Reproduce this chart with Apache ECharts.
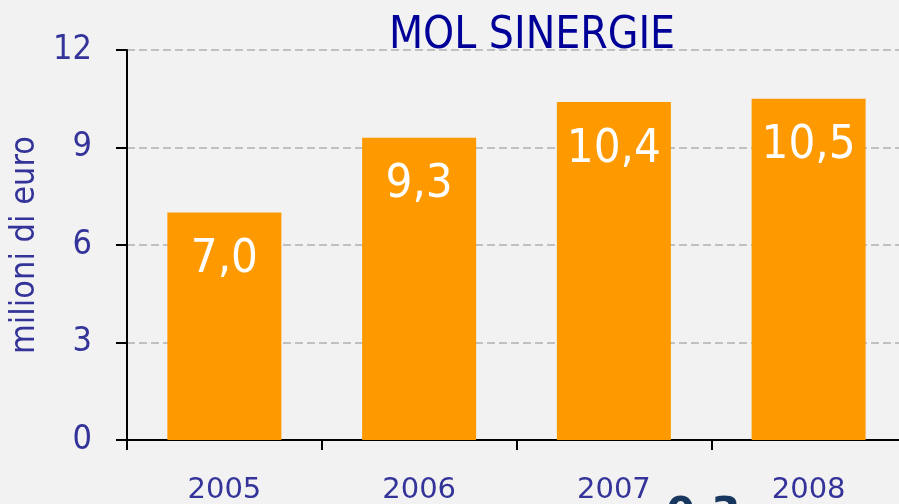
<!DOCTYPE html>
<html>
<head>
<meta charset="utf-8">
<script src="https://cdn.jsdelivr.net/npm/echarts@6/dist/echarts.min.js"></script>
<style>
  html, body { margin: 0; padding: 0; background: #f2f2f2; }
  #chart { width: 899px; height: 504px; }
</style>
</head>
<body>
<div id="chart"></div>
<script>
// dati
const years = ['2005', '2006', '2007', '2008']
const values = [7.0, 9.3, 10.4, 10.5]
const yMin = 0
const yMax = 12
const yStep = 3

const narrow = "'DejaVu Sans Condensed', 'Liberation Sans Narrow', sans-serif"
const blue = '#333399'

const fmt = v => v.toFixed(1).replace('.', ',')

const chart = echarts.init(document.getElementById('chart'))

chart.setOption({
  backgroundColor: '#f2f2f2',
  animation: false,
  title: {
    text: 'MOL SINERGIE',
    left: 527,
    top: 10,
    textAlign: 'center',
    textStyle: { fontFamily: narrow, fontSize: 44, fontWeight: 'normal', color: '#000099' }
  },
  grid: { left: 127, right: -7, top: 50, bottom: 64, outerBoundsMode: 'none' },
  xAxis: {
    type: 'category',
    data: years,
    axisLine: { lineStyle: { color: '#000', width: 2 } },
    axisTick: { show: true, length: 10, lineStyle: { color: '#000', width: 2 } },
    axisLabel: { margin: 36, fontFamily: 'DejaVu Sans', fontSize: 29, color: blue }
  },
  yAxis: {
    type: 'value',
    min: yMin,
    max: yMax,
    interval: yStep,
    name: 'milioni di euro',
    nameLocation: 'middle',
    nameGap: 74,
    nameTextStyle: { fontFamily: narrow, fontSize: 34, color: blue },
    axisLine: { show: true, lineStyle: { color: '#000', width: 2 } },
    axisTick: { show: true, length: 11, lineStyle: { color: '#000', width: 2 } },
    axisLabel: { margin: 35, fontFamily: narrow, fontSize: 34, color: blue },
    splitLine: { lineStyle: { color: '#c0c0c0', width: 2, type: [8, 4] } }
  },
  series: [{
    type: 'bar',
    data: values,
    barWidth: 114,
    itemStyle: { color: '#ff9900' },
    z: 3,
    label: {
      show: true,
      position: 'insideTop',
      distance: 24,
      formatter: p => fmt(p.value),
      fontFamily: narrow,
      fontSize: 47,
      color: '#fff'
    }
  }],
  graphic: [{
    type: 'text',
    left: 666,
    top: 495,
    z: 10,
    style: { text: '0,3', fontFamily: 'DejaVu Sans', fontWeight: 'bold', fontSize: 42, fill: '#17375e' }
  }]
})
</script>
</body>
</html>
